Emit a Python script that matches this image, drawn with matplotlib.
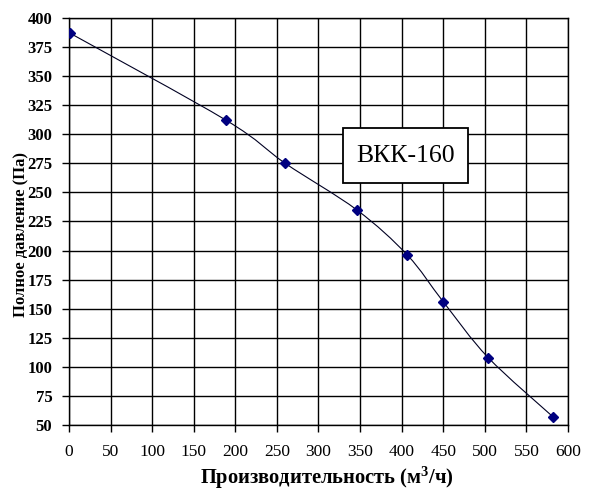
import matplotlib.pyplot as plt
import numpy as np
from matplotlib.path import Path
from matplotlib.patches import PathPatch, Rectangle

# fan curve BKK-160: airflow (m3/h) vs total pressure (Pa)
flow = [1, 189, 260, 346, 407, 450, 504, 582]
pressure = [387, 312, 275, 235, 196, 156, 108, 57]
x_ticks = list(range(0, 601, 50))
y_ticks = list(range(50, 401, 25))
model_name = 'ВКК-160'

plt.rcParams['font.family'] = ['Liberation Serif', 'DejaVu Serif']
plt.rcParams['mathtext.fontset'] = 'custom'
plt.rcParams['mathtext.rm'] = 'Liberation Serif:bold'
plt.rcParams['mathtext.default'] = 'rm'

fig = plt.figure(figsize=(5.98, 4.98), dpi=100)
ax = fig.add_axes([0.1154, 0.1466, 0.8344, 0.8173])

# smoothed line like excel: cubic bezier segments through the points
pts = np.column_stack([flow, pressure]).astype(float)
verts = [pts[0]]
codes = [Path.MOVETO]
t = 1 / 6
for i in range(len(pts) - 1):
    p0 = pts[i - 1] if i > 0 else pts[i]
    p1 = pts[i]
    p2 = pts[i + 1]
    p3 = pts[i + 2] if i + 2 < len(pts) else pts[i + 1]
    verts += [p1 + (p2 - p0) * t, p2 - (p3 - p1) * t, p2]
    codes += [Path.CURVE4] * 3
ax.add_patch(PathPatch(Path(verts, codes), fill=False, edgecolor='#000022', lw=0.8, zorder=3))

ax.plot(flow, pressure, linestyle='none', marker='D', markersize=5,
        color='#000080', zorder=4)

ax.set_xlim(0, 600)
ax.set_ylim(50, 400)
ax.set_xticks(x_ticks)
ax.set_yticks(y_ticks)
ax.grid(True, color='black', linewidth=1)
ax.set_axisbelow(True)
for s in ax.spines.values():
    s.set_linewidth(1)
ax.tick_params(direction='out', length=5, width=1)
ax.tick_params(axis='x', labelsize=12.5, pad=9)
ax.tick_params(axis='y', labelsize=12, pad=7)
for lab in ax.get_yticklabels():
    lab.set_fontweight('bold')

ax.set_xlabel('Производительность (м$^{3}$/ч)', fontsize=14.8, fontweight='bold')
ax.xaxis.set_label_coords(0.517, -0.13)
ax.xaxis.label.set_va('center')
ax.set_ylabel('Полное давление (Па)', fontsize=12, fontweight='bold', va='center')
ax.yaxis.set_label_coords(-0.096, 0.467)

ax.add_patch(Rectangle((0.549, 0.5946), 0.251, 0.135, transform=ax.transAxes,
                       facecolor='white', edgecolor='black', lw=1.3, zorder=5))
ax.text(0.6745, 0.662, model_name, transform=ax.transAxes, fontsize=18.5,
        ha='center', va='center', zorder=6)

fig.savefig('out.png', dpi=100)
